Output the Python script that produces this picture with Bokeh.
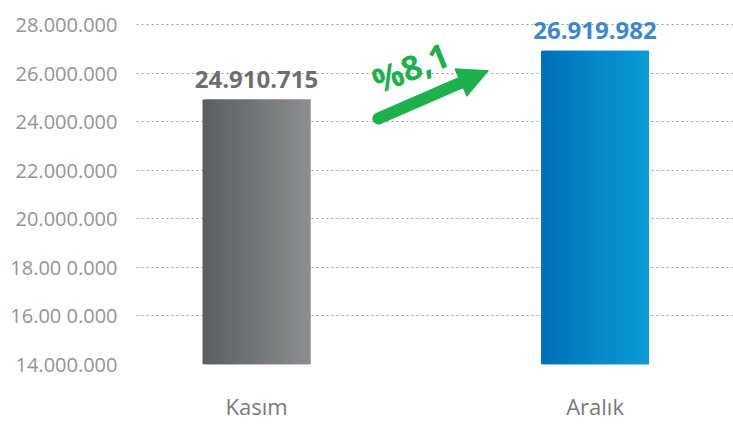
from bokeh.plotting import figure
from bokeh.models import FixedTicker, Range1d, Arrow, NormalHead
from bokeh.core.properties import value
from bokeh.embed import file_html
from bokeh.resources import INLINE

# ---- data ----
categories = ["Kasım", "Aralık"]
values = [24910715, 26919982]
value_labels = ["24.910.715", "26.919.982"]
y_ticks = [14000000, 16000000, 18000000, 20000000, 22000000, 24000000, 26000000, 28000000]
y_tick_labels = ["14.000.000", "16.00 0.000", "18.00 0.000", "20.000.000",
                 "22.000.000", "24.000.000", "26.000.000", "28.000.000"]
change_label = "%8,1"

# ---- styles ----
grad_left = ["#5c5f61", "#0070b8"]
grad_right = ["#8b8d8e", "#0b9cd8"]
label_colors = ["#6d6e70", "#3f88c8"]
green = "#1db14b"
FONT = "Open Sans"

p = figure(width=733, height=424, output_backend="svg", toolbar_location=None,
           x_range=Range1d(-0.3545, 1.409), y_range=Range1d(14000000, 28412000),
           min_border_left=136, min_border_right=0, min_border_top=14, min_border_bottom=60)
p.outline_line_color = None
p.background_fill_color = "white"
p.border_fill_color = "white"

xs = list(range(len(categories)))
bar_w = 0.319
base = y_ticks[0]


def hex2rgb(h):
    h = h.lstrip("#")
    return [int(h[i:i + 2], 16) for i in (0, 2, 4)]


n = 40
for i, (x, v) in enumerate(zip(xs, values)):
    c0, c1 = hex2rgb(grad_left[i]), hex2rgb(grad_right[i])
    lefts, rights, cols = [], [], []
    step = bar_w / n
    for k in range(n):
        t = k / (n - 1)
        rgb = [round(c0[j] + (c1[j] - c0[j]) * t) for j in range(3)]
        l = x - bar_w / 2 + step * k
        lefts.append(l)
        rights.append(min(l + 2 * step, x + bar_w / 2))
        cols.append("#%02x%02x%02x" % tuple(rgb))
    p.quad(left=lefts, right=rights, bottom=[base] * n, top=[v] * n,
           fill_color=cols, line_color=None)

# value labels above bars
for i, (x, v) in enumerate(zip(xs, values)):
    p.text(x=[x], y=[v], text=[value_labels[i]], text_font=value(FONT),
           text_font_style="bold", text_font_size="24px", text_color=label_colors[i],
           text_align="center", text_baseline="bottom", y_offset=-12)

# growth arrow between the bars
sx, sy = xs[0] + 0.36, values[0] - 780000
ex, ey = xs[0] + 0.685, values[0] + 1190000
fx = sx + (ex - sx) * 0.8
fy = sy + (ey - sy) * 0.8
p.segment(x0=[sx], y0=[sy], x1=[fx], y1=[fy], line_color=green, line_width=12,
          line_cap="round")
p.add_layout(Arrow(x_start=fx - (ex - sx) * 0.05, y_start=fy - (ey - sy) * 0.05,
                   x_end=ex, y_end=ey, line_alpha=0, line_width=1,
                   end=NormalHead(size=30, fill_color=green, line_color=green)))
p.text(x=[xs[0] + 0.455], y=[values[0] + 1320000], text=[change_label],
       text_font=value(FONT), text_font_style="bold", text_font_size="34px",
       text_color=green, text_align="center", text_baseline="middle", angle=0.38)

# axes
p.yaxis.ticker = FixedTicker(ticks=y_ticks)
p.yaxis.major_label_overrides = {t: l for t, l in zip(y_ticks, y_tick_labels)}
p.yaxis.axis_line_color = None
p.yaxis.major_tick_line_color = None
p.yaxis.minor_tick_line_color = None
p.yaxis.major_label_text_font = FONT
p.yaxis.major_label_text_font_size = "20px"
p.yaxis.major_label_text_color = "#939496"
p.yaxis.major_label_standoff = 13

p.xaxis.ticker = FixedTicker(ticks=xs)
p.xaxis.major_label_overrides = {x: c for x, c in zip(xs, categories)}
p.xaxis.axis_line_color = None
p.xaxis.major_tick_line_color = None
p.xaxis.minor_tick_line_color = None
p.xaxis.major_label_text_font = FONT
p.xaxis.major_label_text_font_size = "22px"
p.xaxis.major_label_text_color = "#797a7c"
p.xaxis.major_label_standoff = 20

p.xgrid.grid_line_color = None
p.ygrid.ticker = FixedTicker(ticks=y_ticks)
p.ygrid.grid_line_color = "#9a9a9a"
p.ygrid.grid_line_dash = "2 3"
p.ygrid.grid_line_width = 1

open("out.html", "w").write(file_html(p, INLINE))
